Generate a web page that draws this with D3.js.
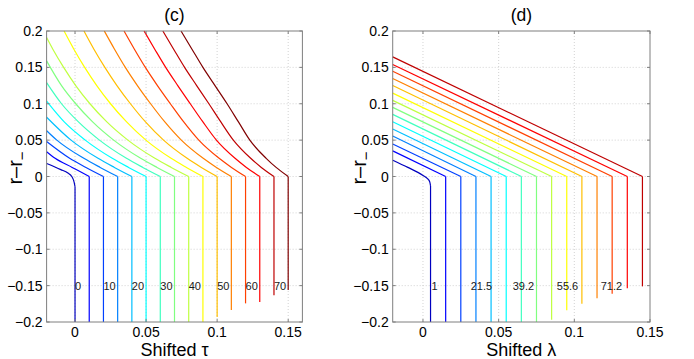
<!DOCTYPE html>
<html>
<head>
<meta charset="utf-8">
<script src="https://cdn.jsdelivr.net/npm/d3@7"></script>
<style>
  body { margin: 0; background: #fff; }
  text { font-family: "Liberation Sans", Arial, sans-serif; }
</style>
</head>
<body>
<div id="chart"></div>
<script>
// ---- data ----
var yTicks = [-0.2, -0.15, -0.1, -0.05, 0, 0.05, 0.1, 0.15, 0.2];
var yTickLabels = ['\u22120.2', '\u22120.15', '\u22120.1', '\u22120.05', '0', '0.05', '0.1', '0.15', '0.2'];
var xTicks = [0, 0.05, 0.1, 0.15];
var xTickLabels = ['0', '0.05', '0.1', '0.15'];

// panel (c): upper part of each curve, from left to the corner
var tauCurves = [
  [[-0.02, 0.018], [-0.01, 0.0095], [-0.005, 0.0048], [-0.0023, 0.0], [-0.0006, -0.008], [0, -0.014]],
  [[-0.02, 0.034], [-0.014, 0.025], [-0.002, 0.0125], [0.01, 0]],
  [[-0.02, 0.048], [-0.0038, 0.025], [0.0077, 0.0125], [0.02, 0]],
  [[-0.02, 0.063], [-0.0128, 0.05], [0.0062, 0.025], [0.0177, 0.0125], [0.03, 0]],
  [[-0.02, 0.0815], [-0.0028, 0.05], [0.0162, 0.025], [0.0277, 0.0125], [0.04, 0]],
  [[-0.02, 0.1035], [-0.0076, 0.075], [0.0072, 0.05], [0.0262, 0.025], [0.0377, 0.0125], [0.05, 0]],
  [[-0.02, 0.129], [-0.0095, 0.1], [0.0024, 0.075], [0.0172, 0.05], [0.0362, 0.025], [0.0477, 0.0125], [0.06, 0]],
  [[-0.02, 0.159], [-0.0095, 0.125], [0.0005, 0.1], [0.0124, 0.075], [0.0272, 0.05], [0.0462, 0.025], [0.0577, 0.0125], [0.07, 0]],
  [[-0.02, 0.191], [-0.0156, 0.175], [-0.008, 0.15], [0.0005, 0.125], [0.0105, 0.1], [0.0224, 0.075], [0.0372, 0.05], [0.0562, 0.025], [0.0677, 0.0125], [0.08, 0]],
  [[-0.0077, 0.2], [-0.0008, 0.175], [0.0068, 0.15], [0.0153, 0.125], [0.025, 0.1], [0.0363, 0.075], [0.0499, 0.05], [0.0676, 0.025], [0.0784, 0.0125], [0.09, 0]],
  [[0.0063, 0.2], [0.0133, 0.175], [0.021, 0.15], [0.0295, 0.125], [0.039, 0.1], [0.0496, 0.075], [0.0623, 0.05], [0.0789, 0.025], [0.0889, 0.0125], [0.1, 0]],
  [[0.0206, 0.2], [0.0278, 0.175], [0.0354, 0.15], [0.0439, 0.125], [0.0532, 0.1], [0.0632, 0.075], [0.0748, 0.05], [0.0902, 0.025], [0.0995, 0.0125], [0.11, 0]],
  [[0.0345, 0.2], [0.0418, 0.175], [0.0495, 0.15], [0.058, 0.125], [0.0671, 0.1], [0.0765, 0.075], [0.0871, 0.05], [0.1014, 0.025], [0.1101, 0.0125], [0.12, 0]],
  [[0.0486, 0.2], [0.0561, 0.175], [0.0638, 0.15], [0.0723, 0.125], [0.0811, 0.1], [0.09, 0.075], [0.0995, 0.05], [0.1126, 0.025], [0.1206, 0.0125], [0.13, 0]],
  [[0.0618, 0.2], [0.0694, 0.175], [0.0771, 0.15], [0.0856, 0.125], [0.0942, 0.1], [0.1026, 0.075], [0.1114, 0.05], [0.1236, 0.025], [0.1311, 0.0125], [0.14, 0]],
  [[0.0746, 0.2], [0.0823, 0.175], [0.09, 0.15], [0.0985, 0.125], [0.107, 0.1], [0.115, 0.075], [0.123, 0.05], [0.1345, 0.025], [0.1415, 0.0125], [0.15, 0]]
];
// lower end of each vertical drop
var tauBottoms = [-0.2, -0.2, -0.2, -0.2, -0.2, -0.2, -0.2, -0.2, -0.2, -0.2, -0.193, -0.1836, -0.1744, -0.1726, -0.1634, -0.156];
var tauLabels = ['0', '10', '20', '30', '40', '50', '60', '70'];
var tauLabelX = [0, 0.02, 0.04, 0.06, 0.08, 0.1, 0.12, 0.14];

// panel (d)
var lamCurves = [
  [[-0.02, 0.0225], [-0.01, 0.0125], [0, 0.0015], [0.003, -0.003], [0.0045, -0.0075], [0.005, -0.013]],
  [[-0.02, 0.0352], [0.015, 0]],
  [[-0.02, 0.0447], [0.025, 0]],
  [[-0.02, 0.0557], [0.035, 0]],
  [[-0.02, 0.0653], [0.045, 0]],
  [[-0.02, 0.0753], [0.055, 0]],
  [[-0.02, 0.0854], [0.065, 0]],
  [[-0.02, 0.095], [0.075, 0]],
  [[-0.02, 0.1046], [0.085, 0]],
  [[-0.02, 0.1146], [0.095, 0]],
  [[-0.02, 0.125], [0.105, 0]],
  [[-0.02, 0.1347], [0.115, 0]],
  [[-0.02, 0.1447], [0.125, 0]],
  [[-0.02, 0.154], [0.135, 0]],
  [[-0.02, 0.1644], [0.145, 0]]
];
var lamBottoms = [-0.2, -0.2, -0.2, -0.2, -0.2, -0.2, -0.2, -0.2, -0.197, -0.184, -0.175, -0.1675, -0.1613, -0.1535, -0.151];
var lamLabels = ['1', '21.5', '39.2', '55.6', '71.2'];
var lamLabelX = [0.0057, 0.0315, 0.0593, 0.0884, 0.1174];

// MATLAB style jet colormap with m entries
function jet(m) {
  var n = Math.ceil(m / 4);
  var u = [];
  for (var i = 1; i <= n; i++) u.push(i / n);
  for (i = 1; i < n; i++) u.push(1);
  for (i = n; i >= 1; i--) u.push(i / n);
  var off = Math.ceil(n / 2) - (m % 4 === 1 ? 1 : 0);
  var rows = d3.range(m).map(function() { return [0, 0, 0]; });
  u.forEach(function(v, j) {
    var g = off + j + 1, r = g + n, b = g - n;
    if (g >= 1 && g <= m) rows[g - 1][1] = v;
    if (r >= 1 && r <= m) rows[r - 1][0] = v;
    if (b >= 1 && b <= m) rows[b - 1][2] = v;
  });
  return rows.map(function(c) { return d3.rgb(c[0] * 255, c[1] * 255, c[2] * 255).formatHex(); });
}

var svg = d3.select('#chart').append('svg')
  .attr('width', 694)
  .attr('height', 359);

function drawPanel(p) {
  var x = d3.scaleLinear().domain(p.xDomain).range([p.left, p.right]);
  var y = d3.scaleLinear().domain([-0.2, 0.2]).range([322, 31]);
  var colors = jet(p.curves.length);
  var g = svg.append('g');

  // dotted grid
  g.selectAll('.gx').data(xTicks.filter(function(t) { return t < p.xDomain[1]; }))
    .enter().append('line')
      .attr('x1', function(d) { return x(d); }).attr('x2', function(d) { return x(d); })
      .attr('y1', y(-0.2)).attr('y2', y(0.2))
      .attr('stroke', '#c8c8c8').attr('stroke-width', 0.8).attr('stroke-dasharray', '1,2');
  g.selectAll('.gy').data(yTicks.slice(1, -1))
    .enter().append('line')
      .attr('x1', x(p.xDomain[0])).attr('x2', x(p.xDomain[1]))
      .attr('y1', function(d) { return y(d); }).attr('y2', function(d) { return y(d); })
      .attr('stroke', '#c8c8c8').attr('stroke-width', 0.8).attr('stroke-dasharray', '1,2');

  // curves
  var upper = d3.line()
    .curve(d3.curveMonotoneX)
    .x(function(d) { return x(d[0]); })
    .y(function(d) { return y(d[1]); });
  var straight = d3.line()
    .x(function(d) { return x(d[0]); })
    .y(function(d) { return y(d[1]); });

  p.curves.forEach(function(c, i) {
    var last = c[c.length - 1];
    g.append('path')
      .attr('d', upper(c))
      .attr('fill', 'none').attr('stroke', colors[i]).attr('stroke-width', 1.2);
    g.append('path')
      .attr('d', straight([last, [last[0], p.bottoms[i]]]))
      .attr('fill', 'none').attr('stroke', colors[i]).attr('stroke-width', 1.2);
  });

  // curve labels
  g.selectAll('.lab').data(p.labels)
    .enter().append('text')
      .attr('x', function(d, i) { return x(p.labelX[i]); })
      .attr('y', y(-0.15))
      .attr('dy', '0.36em')
      .style('font-size', '11px')
      .attr('fill', '#1a1a1a')
      .text(function(d) { return d; });

  // box and inward ticks
  g.append('rect')
    .attr('x', x(p.xDomain[0])).attr('y', y(0.2))
    .attr('width', x(p.xDomain[1]) - x(p.xDomain[0]))
    .attr('height', y(-0.2) - y(0.2))
    .attr('fill', 'none').attr('stroke', '#7f7f7f').attr('stroke-width', 1);
  var tl = 3;
  yTicks.forEach(function(t) {
    g.append('line').attr('x1', x(p.xDomain[0])).attr('x2', x(p.xDomain[0]) + tl)
      .attr('y1', y(t)).attr('y2', y(t)).attr('stroke', '#7f7f7f');
    g.append('line').attr('x1', x(p.xDomain[1])).attr('x2', x(p.xDomain[1]) - tl)
      .attr('y1', y(t)).attr('y2', y(t)).attr('stroke', '#7f7f7f');
  });
  xTicks.forEach(function(t) {
    g.append('line').attr('x1', x(t)).attr('x2', x(t))
      .attr('y1', y(-0.2)).attr('y2', y(-0.2) - tl).attr('stroke', '#7f7f7f');
    g.append('line').attr('x1', x(t)).attr('x2', x(t))
      .attr('y1', y(0.2)).attr('y2', y(0.2) + tl).attr('stroke', '#7f7f7f');
  });

  // tick labels
  g.selectAll('.yl').data(yTicks)
    .enter().append('text')
      .attr('x', x(p.xDomain[0]) - 4)
      .attr('y', function(d) { return y(d); })
      .attr('dy', '0.36em')
      .attr('text-anchor', 'end')
      .style('font-size', '14px')
      .text(function(d, i) { return yTickLabels[i]; });
  g.selectAll('.xl').data(xTicks)
    .enter().append('text')
      .attr('x', function(d) { return x(d); })
      .attr('y', 336.5)
      .attr('text-anchor', 'middle')
      .style('font-size', '14px')
      .text(function(d, i) { return xTickLabels[i]; });

  // title and axis labels
  var cx = (p.left + p.right) / 2;
  g.append('text').attr('x', cx).attr('y', 20.5)
    .attr('text-anchor', 'middle').style('font-size', '17.5px').text(p.title);
  g.append('text').attr('x', cx).attr('y', 355.5)
    .attr('text-anchor', 'middle').style('font-size', '18px').text(p.xLabel);
  var yl = g.append('text')
    .attr('transform', 'translate(' + p.yLabelX + ',168) rotate(-90)')
    .attr('text-anchor', 'middle').style('font-size', '20px');
  yl.append('tspan').text('r\u2013r');
  yl.append('tspan').attr('dy', '0.3em').style('font-size', '15px').text('\u2212');
}

drawPanel({
  left: 46.6, right: 302.4, xDomain: [-0.02, 0.16],
  curves: tauCurves, bottoms: tauBottoms,
  labels: tauLabels, labelX: tauLabelX,
  title: '(c)', xLabel: 'Shifted \u03c4', yLabelX: 22
});
drawPanel({
  left: 392.7, right: 650, xDomain: [-0.02, 0.15],
  curves: lamCurves, bottoms: lamBottoms,
  labels: lamLabels, labelX: lamLabelX,
  title: '(d)', xLabel: 'Shifted \u03bb', yLabelX: 366
});
</script>
</body>
</html>
